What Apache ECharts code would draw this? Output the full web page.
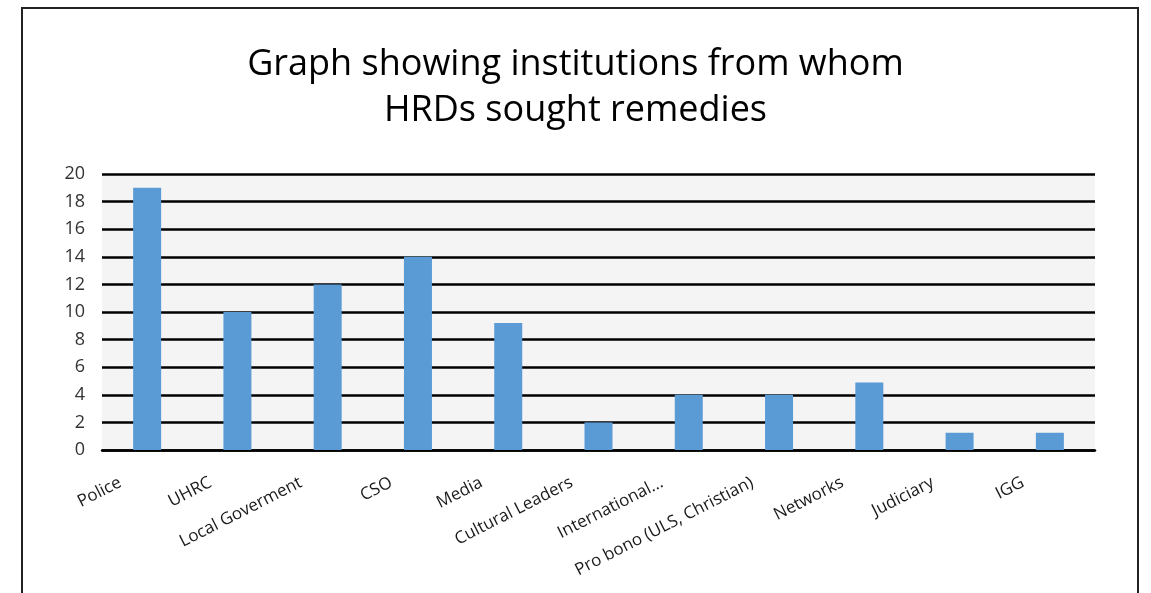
<!DOCTYPE html>
<html>
<head>
<meta charset="utf-8">
<script src="https://cdn.jsdelivr.net/npm/echarts@6/dist/echarts.min.js"></script>
<style>
  html, body { margin: 0; padding: 0; background: #fff; }
  #chart { width: 1151px; height: 593px; }
</style>
</head>
<body>
<div id="chart"></div>
<script>
// institutions and number of HRDs who sought remedies from them
const categories = [
  "Police", "UHRC", "Local Goverment", "CSO", "Media", "Cultural Leaders",
  "International...", "Pro bono (ULS, Christian)", "Networks", "Judiciary", "IGG"
];
const values = [19, 10, 12, 14, 9.2, 2, 4, 4, 4.9, 1.25, 1.25];
const titleLines = ["Graph showing institutions from whom", "HRDs sought remedies"];

const chart = echarts.init(document.getElementById("chart"));

const option = {
  animation: false,
  textStyle: { fontFamily: "Open Sans" },
  title: {
    text: titleLines.join("\n"),
    left: "center",
    top: 37,
    textStyle: {
      fontFamily: "Open Sans",
      fontWeight: "normal",
      fontSize: 36,
      lineHeight: 46,
      color: "#000"
    }
  },
  graphic: [
    {
      // cadre autour du graphique
      type: "rect",
      shape: { x: 22, y: 8, width: 1116, height: 620 },
      style: { fill: "none", stroke: "#222", lineWidth: 2 },
      silent: true
    }
  ],
  grid: {
    left: 102,
    right: 56,
    top: 174,
    bottom: 143,
    show: true,
    backgroundColor: "#f4f4f4",
    borderWidth: 0
  },
  xAxis: {
    type: "category",
    data: categories,
    axisLine: { show: true, lineStyle: { color: "#000", width: 2.5 } },
    axisTick: { show: false },
    axisLabel: {
      interval: 0,
      rotate: 27,
      margin: 18,
      padding: [0, 30, 0, 0],
      fontSize: 17,
      color: "#1a1a1a"
    }
  },
  yAxis: {
    type: "value",
    min: 0,
    max: 20,
    interval: 2,
    axisLine: { show: false },
    axisTick: { show: false },
    axisLabel: { fontSize: 18, color: "#333", margin: 17 },
    splitLine: { lineStyle: { color: "#000", width: 2.5 } }
  },
  series: [
    {
      type: "bar",
      data: values,
      barWidth: 28,
      itemStyle: { color: "#5b9bd5" }
    }
  ]
};

chart.setOption(option);
</script>
</body>
</html>
